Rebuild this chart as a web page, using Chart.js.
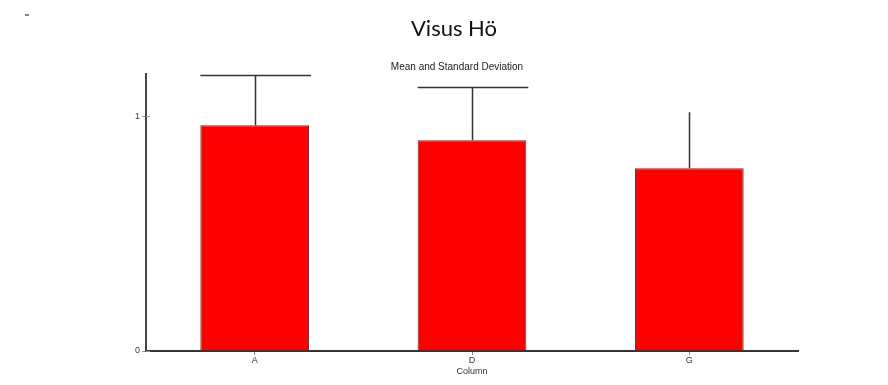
<!DOCTYPE html>
<html>
<head>
<meta charset="utf-8">
<script src="https://cdn.jsdelivr.net/npm/chart.js@4.4.1/dist/chart.umd.min.js"></script>
<style>
  html, body { margin: 0; padding: 0; background: #fff; }
  #wrap { width: 888px; height: 385px; position: relative; }
</style>
</head>
<body>
<div id="wrap"><canvas id="visus"></canvas></div>
<script>
// group labels and values
const categories = ["A", "D", "G"];
const means = [0.962, 0.898, 0.779];
const stdDevs = [0.212, 0.225, 0.238];
const cappedGroups = ["A", "D"];      // G is drawn without a cap in the original
const yTicks = [0, 1];

const titleText = "Visus Hö";
const subtitleText = "Mean and Standard Deviation";
const xTitle = "Column";

// draws the titles and the little dash in the corner
const headerPlugin = {
    id: "header",
    afterDraw(chart) {
        const ctx = chart.ctx;
        ctx.save();
        ctx.fillStyle = "#888";
        ctx.fillRect(25, 14, 4, 2);
        ctx.fillStyle = "#111";
        ctx.textAlign = "center";
        ctx.textBaseline = "alphabetic";
        ctx.font = "22px Lato";
        ctx.fillText(titleText, 454, 36);
        ctx.font = "10px 'Liberation Sans'";
        ctx.fillStyle = "#222";
        ctx.fillText(subtitleText, 457, 70);
        ctx.restore();
    }
};

// mean + 1 SD whiskers, and the y tick marks crossing the axis
const errorBarPlugin = {
    id: "errorBars",
    afterDatasetsDraw(chart) {
        const ctx = chart.ctx;
        const meta = chart.getDatasetMeta(0);
        const y = chart.scales.y;
        ctx.save();
        ctx.strokeStyle = "#333";
        ctx.lineWidth = 1.5;
        meta.data.forEach(function (bar, i) {
            const top = y.getPixelForValue(means[i] + stdDevs[i]);
            const x = Math.round(bar.x) + 0.5;
            ctx.beginPath();
            ctx.moveTo(x, bar.y);
            ctx.lineTo(x, top);
            if (cappedGroups.includes(categories[i])) {
                ctx.moveTo(bar.x - bar.width / 2, top);
                ctx.lineTo(bar.x + bar.width / 2 + 2, top);
            }
            ctx.stroke();
        });
        ctx.strokeStyle = "#999";
        ctx.lineWidth = 1;
        yTicks.forEach(function (v) {
            const py = Math.round(y.getPixelForValue(v)) + 0.5;
            ctx.beginPath();
            ctx.moveTo(y.right, py);
            ctx.lineTo(y.right + 4, py);
            ctx.stroke();
        });
        ctx.restore();
    }
};

new Chart("visus", {
    type: "bar",
    data: {
        labels: categories,
        datasets: [{
            data: means,
            backgroundColor: "#ff0000",
            borderColor: "#444",
            borderWidth: 1,
            categoryPercentage: 1,
            barPercentage: 0.5
        }]
    },
    options: {
        responsive: true,
        maintainAspectRatio: false,
        animation: false,
        layout: { padding: { top: 74, right: 90, left: 0, bottom: 8 } },
        plugins: {
            legend: { display: false },
            tooltip: { enabled: false }
        },
        scales: {
            x: {
                grid: { display: true, drawOnChartArea: false, offset: false, tickLength: 4, color: "#888" },
                border: { color: "#333", width: 2 },
                ticks: { color: "#333", font: { family: "Liberation Sans", size: 9 }, padding: 0 },
                title: { display: true, text: xTitle, color: "#333", font: { family: "Liberation Sans", size: 9 }, padding: 0 },
                afterFit: function (scale) { scale.height = 26; }
            },
            y: {
                min: 0,
                max: 1.18,
                afterBuildTicks: function (scale) {
                    scale.ticks = yTicks.map(v => ({ value: v }));
                },
                grid: { display: true, drawOnChartArea: false, tickLength: 4, color: "#999" },
                border: { color: "#444", width: 2 },
                ticks: { color: "#333", font: { family: "Liberation Sans", size: 9 }, padding: 2 },
                afterFit: function (scale) { scale.width = 146; }
            }
        }
    },
    plugins: [headerPlugin, errorBarPlugin]
});
</script>
</body>
</html>
